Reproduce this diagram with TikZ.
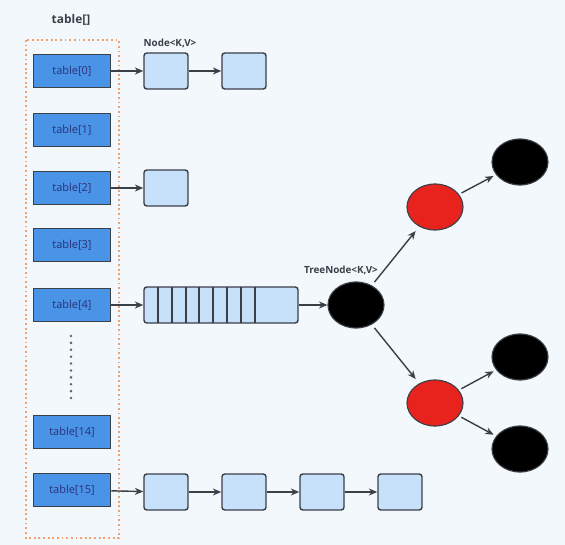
\documentclass[tikz,border=0pt]{standalone}
\usepackage{fontspec}
\setmainfont{Open Sans}
\usetikzlibrary{arrows.meta,shapes.geometric}
\definecolor{slotblue}{HTML}{4A94E8}
\definecolor{nodeblue}{HTML}{C8E1FA}
\definecolor{edgegray}{HTML}{3A3F48}
\definecolor{rbred}{HTML}{E8231E}
\definecolor{frameorange}{HTML}{F2A06E}
\definecolor{paper}{HTML}{F3F8FC}
\tikzset{
  slot/.style={draw=edgegray,line width=1.1pt,fill=slotblue,minimum width=1.925cm,minimum height=0.825cm,
    font=\fontsize{7.8}{8}\selectfont,text=edgegray!75!blue,inner sep=0pt},
  entry/.style={draw=edgegray,line width=1pt,fill=nodeblue,rounded corners=2pt,minimum width=1.1cm,minimum height=0.9cm,inner sep=0pt},
  rbnode/.style={ellipse,draw=edgegray,line width=0.8pt,minimum width=1.4cm,minimum height=1.15cm,inner sep=0pt},
  link/.style={-{Stealth[length=6pt,width=5pt]},draw=edgegray,line width=1pt},
  caption/.style={font=\bfseries\fontsize{7}{8}\selectfont,text=edgegray}
}
\begin{document}
\begin{tikzpicture}[x=0.025cm,y=-0.025cm]
\useasboundingbox (0,0) rectangle (565,545);
\fill[paper] (0,0) rectangle (565,545);
\node[caption,font=\bfseries\fontsize{8.5}{9}\selectfont] (arr) at (71,20) {table[]};
\node[caption] (nlab) at (170,43) {Node<K,V>};
\node[caption] (tlab) at (341,270) {TreeNode<K,V>};
\draw [dotted,line width=1.3pt,frameorange] (26,40) rectangle (119,538);
% bucket array
\foreach \i/\y in {0/71,1/130,2/188,3/245,4/305,14/432,15/490}
	\node[slot] (t\i) at (72,\y) {table[\i]};
\coordinate (d1) at (71,336);
\coordinate (d2) at (71,403);
\draw [dash pattern=on 0pt off 4.9pt,line width=2pt,line cap=round,edgegray!80] (d1) to (d2);
% lists
\node[entry] (a1) at (166,71) {};
\node[entry] (a2) at (244,71) {};
\node[entry] (b1) at (166,188) {};
\node[entry] (c1) at (166,492) {};
\node[entry] (c2) at (244,492) {};
\node[entry] (c3) at (322,492) {};
\node[entry] (c4) at (400,492) {};
\draw [link] (t0) to (a1);
\draw [link] (a1) to (a2);
\draw [link] (t2) to (b1);
\draw [link] (t15) to (c1);
\draw [link] (c1) to (c2);
\draw [link] (c2) to (c3);
\draw [link] (c3) to (c4);
% long list before treeify
\node[entry,minimum width=3.85cm] (seg) at (221,305) {};
\foreach \x in {158,172,186,199,213,227,241,255}
	\draw [edgegray,line width=0.8pt] (\x,287) to (\x,323);
\draw [link] (t4) to (seg);
% red-black tree
\node[rbnode,fill=black] (root) at (356,305) {};
\node[rbnode,fill=rbred] (r1) at (435,207) {};
\node[rbnode,fill=rbred] (r2) at (435,403) {};
\node[rbnode,fill=black] (k1) at (520,162) {};
\node[rbnode,fill=black] (k2) at (520,357) {};
\node[rbnode,fill=black] (k3) at (520,449) {};
\draw [link] (seg) to (root);
\draw [link,shorten <=3pt,shorten >=4pt] (root) to (r1);
\draw [link,shorten <=3pt,shorten >=4pt] (root) to (r2);
\draw [link,shorten <=2pt,shorten >=2pt] (r1) to (k1);
\draw [link,shorten <=2pt,shorten >=2pt] (r2) to (k2);
\draw [link,shorten <=2pt,shorten >=2pt] (r2) to (k3);
\end{tikzpicture}
\end{document}
